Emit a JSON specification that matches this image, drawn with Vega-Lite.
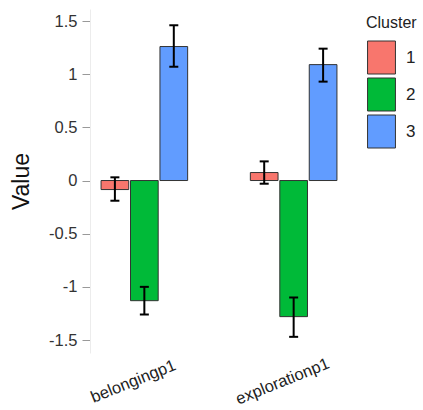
{
  "$schema": "https://vega.github.io/schema/vega-lite/v6.json",
  "width": 258,
  "height": 344,
  "autosize": "none",
  "padding": {"left": 90, "top": 9, "right": 75, "bottom": 57},
  "background": "white",
  "config": {
    "view": {"stroke": null},
    "font": "Liberation Sans"
  },
  "data": {
    "values": [
      {"Variable": "belongingp1", "Cluster": "1", "Value": -0.085, "lo": -0.19, "hi": 0.03},
      {"Variable": "belongingp1", "Cluster": "2", "Value": -1.13, "lo": -1.26, "hi": -1.0},
      {"Variable": "belongingp1", "Cluster": "3", "Value": 1.26, "lo": 1.07, "hi": 1.46},
      {"Variable": "explorationp1", "Cluster": "1", "Value": 0.075, "lo": -0.03, "hi": 0.18},
      {"Variable": "explorationp1", "Cluster": "2", "Value": -1.28, "lo": -1.47, "hi": -1.1},
      {"Variable": "explorationp1", "Cluster": "3", "Value": 1.09, "lo": 0.93, "hi": 1.24}
    ]
  },
  "encoding": {
    "x": {
      "field": "Variable", "type": "nominal",
      "scale": {"paddingInner": 0.42, "paddingOuter": 0.074},
      "axis": {
        "title": null, "domain": false, "ticks": false,
        "labelAngle": -22, "labelAlign": "center", "labelBaseline": "middle",
        "labelFontSize": 16.5, "labelColor": "#222", "labelPadding": 28, "labelOffset": -11
      }
    },
    "xOffset": {"field": "Cluster", "type": "nominal", "scale": {"paddingInner": 0.06, "paddingOuter": 0}}
  },
  "layer": [
    {
      "mark": {"type": "bar", "stroke": "#333", "strokeWidth": 1},
      "encoding": {
        "y": {
          "field": "Value", "type": "quantitative",
          "scale": {"domain": [-1.622, 1.613], "nice": false, "zero": false},
          "axis": {
            "values": [-1.5, -1, -0.5, 0, 0.5, 1, 1.5],
            "labelExpr": "replace(format(datum.value, '~g'), '−', '-')",
            "title": "Value", "titleFontSize": 23, "titleFontWeight": "normal", "titleColor": "#111",
            "titlePadding": 15,
            "labelFontSize": 16.5, "labelColor": "#333", "labelPadding": 5,
            "grid": false, "domainColor": "#ececec", "domainWidth": 1,
            "tickColor": "#999", "tickSize": 8, "tickWidth": 1
          }
        },
        "fill": {
          "field": "Cluster", "type": "nominal",
          "scale": {"domain": ["1", "2", "3"], "range": ["#F8766D", "#00BA38", "#619CFF"]},
          "legend": {
            "title": "Cluster", "titleFontSize": 16, "titleFontWeight": "normal", "titleColor": "#222",
            "orient": "none", "legendX": 276, "legendY": 6,
            "symbolType": "M-0.93,-1.1H0.93V1.1H-0.93Z", "symbolSize": 900,
            "symbolStrokeColor": "#333", "symbolStrokeWidth": 1,
            "symbolOpacity": 1,
            "labelFontSize": 17, "labelColor": "#222", "labelOffset": 9,
            "rowPadding": 0, "titlePadding": 11, "padding": 0
          }
        }
      }
    },
    {
      "mark": {"type": "rule", "color": "black", "strokeWidth": 2},
      "encoding": {
        "y": {"field": "lo", "type": "quantitative"},
        "y2": {"field": "hi"}
      }
    },
    {
      "mark": {"type": "tick", "color": "black", "thickness": 2, "size": 9, "opacity": 1},
      "encoding": {"y": {"field": "lo", "type": "quantitative"}}
    },
    {
      "mark": {"type": "tick", "color": "black", "thickness": 2, "size": 9, "opacity": 1},
      "encoding": {"y": {"field": "hi", "type": "quantitative"}}
    }
  ]
}
